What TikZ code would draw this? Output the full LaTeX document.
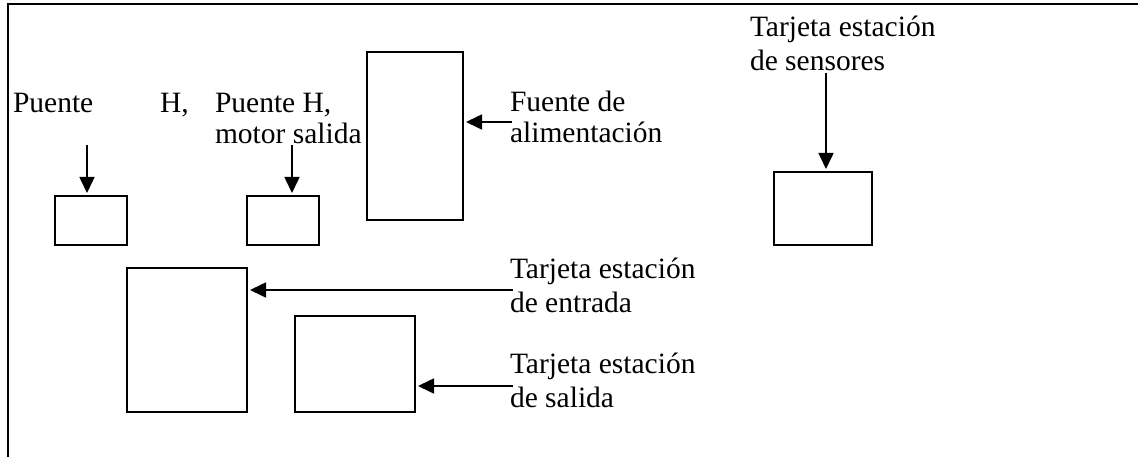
\documentclass[tikz,border=0pt]{standalone}
\usepackage{fontspec}
\setmainfont{Liberation Serif}
\usetikzlibrary{arrows.meta}
\begin{document}
\begin{tikzpicture}[x=1pt,y=-1pt,
  box/.style={draw,line width=1.6pt,inner sep=0pt,outer sep=0pt},
  lbl/.style={anchor=base west,inner sep=0pt,outer sep=0pt,font=\fontsize{29.5}{34}\selectfont},
  arr/.style={line width=1.6pt,-{Triangle[length=16pt,width=15pt]},shorten >=3pt}]
\useasboundingbox (0,0) rectangle (1138,457);
\fill[white] (0,0) rectangle (1138,457);
\draw[line width=2pt] (7.5,457) -- (7.5,4) -- (1138,4);
% boxes
\node[box,minimum width=72,minimum height=49] (bA) at (91,220.5) {};
\node[box,minimum width=72,minimum height=49] (bB) at (283,220.5) {};
\node[box,minimum width=96,minimum height=168] (bF) at (415,136) {};
\node[box,minimum width=98,minimum height=73] (bS) at (823,208.5) {};
\node[box,minimum width=120,minimum height=144] (bE) at (187,340) {};
\node[box,minimum width=120,minimum height=96] (bO) at (355,364) {};
% labels
\node[lbl] (lA1) at (13,113) {Puente};
\node[lbl] (lA2) at (160,113) {H,};
\node[lbl] (lB1) at (215,113) {Puente H,};
\node[lbl] (lB2) at (215,144) {motor salida};
\node[lbl] (lF1) at (510,112) {Fuente de};
\node[lbl] (lF2) at (510,143) {alimentación};
\node[lbl] (lS1) at (750,37) {Tarjeta estación};
\node[lbl] (lS2) at (750,71) {de sensores};
\node[lbl] (lE1) at (510,278) {Tarjeta estación};
\node[lbl] (lE2) at (510,312) {de entrada};
\node[lbl] (lO1) at (510,373) {Tarjeta estación};
\node[lbl] (lO2) at (510,407) {de salida};
% arrow tails
\coordinate (tA) at (87,145);
\coordinate (tB) at (292,145);
\coordinate (tF) at (512,122);
\coordinate (tS) at (826,73);
\coordinate (tE) at (513,290);
\coordinate (tO) at (513,386);
% connectors
\draw[arr] (tA) -- (tA |- bA.north);
\draw[arr] (tB) -- (tB |- bB.north);
\draw[arr] (tF) -- (tF -| bF.east);
\draw[arr] (tS) -- (tS |- bS.north);
\draw[arr] (tE) -- (tE -| bE.east);
\draw[arr] (tO) -- (tO -| bO.east);
\end{tikzpicture}
\end{document}
